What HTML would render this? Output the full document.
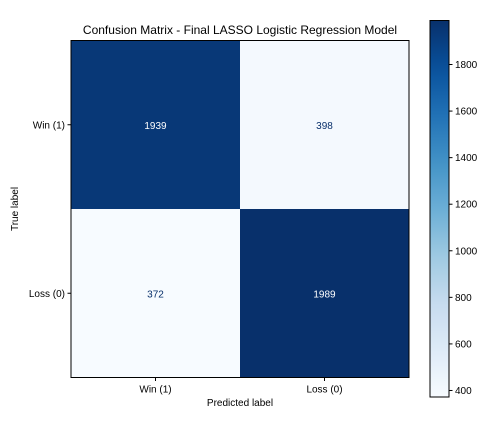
<!DOCTYPE html>
<html><head><meta charset="utf-8"><style>
body{margin:0;background:#fff;font-family:"Liberation Sans",sans-serif;}
svg text{font-family:"Liberation Sans",sans-serif;}
</style></head><body>
<svg id="c" width="504" height="432" xmlns="http://www.w3.org/2000/svg"></svg>
<script>
const xCategories=["Win (1)","Loss (0)"];
const yCategories=["Win (1)","Loss (0)"];
const row0=[1939,398];
const row1=[372,1989];
const cbTicks=[400,600,800,1000,1200,1400,1600,1800];
const NS="http://www.w3.org/2000/svg";
const svg=document.getElementById('c');
function mk(t,a,txt){const e=document.createElementNS(NS,t);for(const k in a)e.setAttribute(k,a[k]);if(txt!=null)e.textContent=txt;svg.appendChild(e);return e;}
const L=71,T=40.5,R=409,B=377.5;
const rows=[row0,row1];
const all=row0.concat(row1);
const vmin=Math.min(...all),vmax=Math.max(...all);
const stops=["#f7fbff","#deebf7","#c6dbef","#9ecae1","#6baed6","#4292c6","#2171b5","#08519c","#08306b"];
function h2r(h){return [1,3,5].map(i=>parseInt(h.substr(i,2),16));}
function cmap(v){let t=(v-vmin)/(vmax-vmin);t=Math.max(0,Math.min(1,t));const p=t*8,i=Math.min(7,Math.floor(p)),f=p-i;const a=h2r(stops[i]),b=h2r(stops[i+1]);return `rgb(${a.map((x,k)=>Math.round(x+(b[k]-x)*f)).join(',')})`;}
const cw=(R-L)/xCategories.length,ch=(B-T)/yCategories.length;
const xs=i=>L+i*cw, ys=j=>T+j*ch;
rows.forEach((r,j)=>r.forEach((v,i)=>{
 const rc=mk('rect',{x:xs(i),y:ys(j),width:cw,height:ch,fill:cmap(v)});
 
 
 const tx=mk('text',{x:xs(i)+cw/2,y:ys(j)+ch/2+4,'text-anchor':'middle','font-size':10,fill:(v-vmin)/(vmax-vmin)>0.5?'#fff':'#08306b'},v);
 
 
}));
const fr=mk('rect',{x:L,y:T,width:R-L,height:B-T,fill:'none',stroke:'#000','stroke-width':1});

xCategories.forEach((c,i)=>{const x=xs(i)+cw/2;mk('line',{x1:x,x2:x,y1:B,y2:B+3.5,stroke:'#000'});
 const t=mk('text',{x:x,y:B+15,'text-anchor':'middle','font-size':10,fill:'#000'},c);
 });
yCategories.forEach((c,j)=>{const y=ys(j)+ch/2;mk('line',{x1:L-3.5,x2:L,y1:y,y2:y,stroke:'#000'});
 const t=mk('text',{x:L-6,y:y+3.5,'text-anchor':'end','font-size':10,fill:'#000'},c);
 });
let e=mk('text',{x:(L+R)/2,y:406,'text-anchor':'middle','font-size':10},'Predicted label');
e=mk('text',{x:0,y:0,'text-anchor':'middle','font-size':10,transform:`translate(18,${(T+B)/2}) rotate(-90)`},'True label');
e=mk('text',{x:(L+R)/2,y:34,'text-anchor':'middle','font-size':12},'Confusion Matrix - Final LASSO Logistic Regression Model');
// colorbar
const CL=430,CR=449,CT=20.5,CB=397;
const defs=mk('defs',{});const g=document.createElementNS(NS,'linearGradient');g.setAttribute('id','gr');g.setAttribute('x1','0');g.setAttribute('y1','1');g.setAttribute('x2','0');g.setAttribute('y2','0');defs.appendChild(g);
for(let k=0;k<=20;k++){const s=document.createElementNS(NS,'stop');s.setAttribute('offset',k/20);s.setAttribute('stop-color',cmap(vmin+(vmax-vmin)*k/20));g.appendChild(s);}
e=mk('rect',{x:CL,y:CT,width:CR-CL,height:CB-CT,fill:'url(#gr)',stroke:'#000','stroke-width':1});
const cy=v=>CB-(v-vmin)/(vmax-vmin)*(CB-CT);
cbTicks.forEach(v=>{const y=cy(v);mk('line',{x1:CR,x2:CR+3.5,y1:y,y2:y,stroke:'#000'});
 const t=mk('text',{x:CR+6,y:y+3.5,'font-size':10},v);});
</script>
</body></html>
